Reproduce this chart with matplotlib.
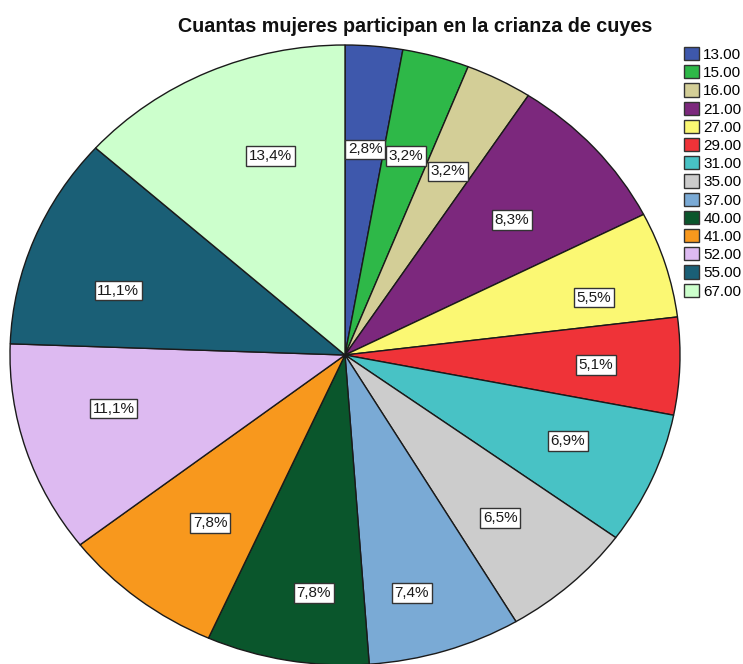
import numpy as np
import matplotlib.pyplot as plt
from matplotlib.patches import Patch

# Categories (legend labels) and counts
categories = ["13.00", "15.00", "16.00", "21.00", "27.00", "29.00", "31.00",
              "35.00", "37.00", "40.00", "41.00", "52.00", "55.00", "67.00"]
counts = [6, 7, 7, 18, 12, 11, 15, 14, 16, 17, 17, 24, 24, 29]
colors = ["#3E58AC", "#2EB848", "#D3CE97", "#7C287D", "#FBF873", "#EF3338",
          "#48C2C5", "#CCCCCC", "#7AAAD5", "#0A562C", "#F8981D", "#DDBAF1",
          "#1A5F76", "#CCFFCC"]
title = "Cuantas mujeres participan en la crianza de cuyes"

# where SPSS put each percentage box: distance from centre and a small
# clockwise nudge (degrees) off the slice's mid angle
label_dist = [0.666, 0.667, 0.667, 0.662, 0.766, 0.75, 0.721,
              0.70, 0.793, 0.774, 0.675, 0.712, 0.708, 0.68]
label_nudge = [0.2, 0, 0, 0.8, 3.0, 0.4, -1.0,
               0.9, 2.9, -3.0, -1.6, 3.8, -4.9, 4.9]

plt.rcParams['font.family'] = ['Liberation Sans', 'DejaVu Sans']

W, H = 743, 664
fig = plt.figure(figsize=(W / 100, H / 100), dpi=100)
fig.patch.set_facecolor("white")

# pie is slightly wider than tall in the reference
cx, cy, rx, ry = 345, 355, 335, 310
ax = fig.add_axes([(cx - rx) / W, (H - cy - ry) / H, 2 * rx / W, 2 * ry / H])

wedges, texts, autotexts = ax.pie(
    counts, colors=colors, startangle=90, counterclock=False,
    wedgeprops=dict(edgecolor="#1a1a1a", linewidth=1.0),
    autopct=lambda p: f"{p:.1f}%".replace(".", ","),
    textprops=dict(fontsize=11, color="#1a1a1a"),
)
for w, t, d, nudge in zip(wedges, autotexts, label_dist, label_nudge):
    theta = np.deg2rad((w.theta1 + w.theta2) / 2 - nudge)
    t.set_position((d * np.cos(theta), d * np.sin(theta)))
    t.set_bbox(dict(facecolor="white", edgecolor="#333333", linewidth=1.0, pad=2))

ax.set_aspect("auto")
ax.set_xlim(-1, 1)
ax.set_ylim(-1, 1)
ax.axis("off")

fig.text(178 / W, 1 - 27 / H, title, fontsize=14.2, fontweight="bold",
         ha="left", va="center", color="#111111")

handles = [Patch(facecolor=c, edgecolor="#333333", linewidth=1.0) for c in colors]
fig.legend(handles, categories, loc="upper left",
           bbox_to_anchor=(681 / W, 1 - 44 / H), frameon=False,
           fontsize=11, handlelength=1.0, handleheight=0.95,
           handletextpad=0.26, labelspacing=0.22, borderpad=0.2,
           borderaxespad=0)

fig.savefig("out.png", dpi=100, facecolor="white")
